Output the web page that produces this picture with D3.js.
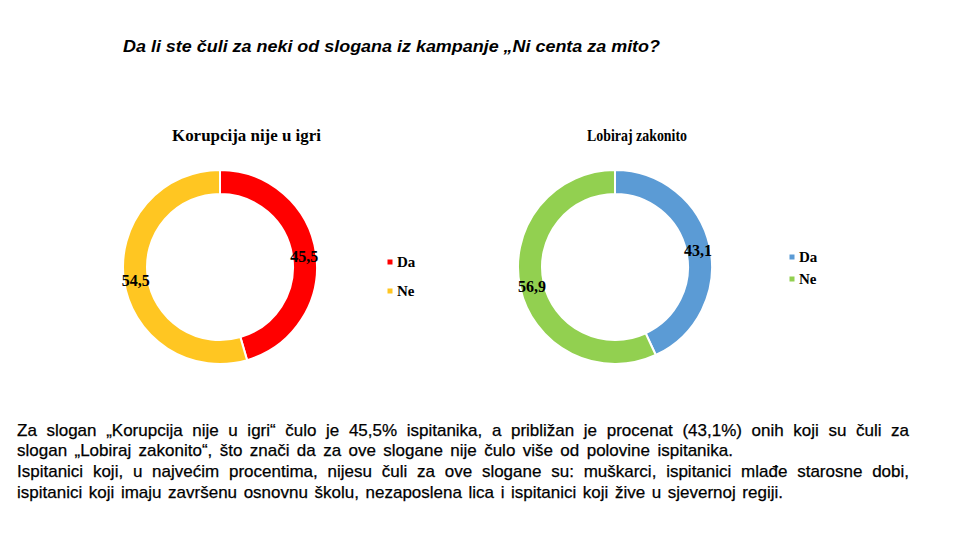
<!DOCTYPE html>
<html>
<head>
<meta charset="utf-8">
<script src="https://cdn.jsdelivr.net/npm/d3@7/dist/d3.min.js"></script>
<style>
  html, body { margin: 0; padding: 0; background: #fff; }
  svg { display: block; }
</style>
</head>
<body>
<svg id="chart" width="960" height="540"></svg>
<script>
// ---- Data ----
const mainTitle = "Da li ste čuli za neki od slogana iz kampanje „Ni centa za mito?";
const categories = ["Da", "Ne"];
const chartTitles = ["Korupcija nije u igri", "Lobiraj zakonito"];
const korupcijaValues = [45.5, 54.5];
const lobirajValues = [43.1, 56.9];
const korupcijaColors = ["#FF0000", "#FFC622"];
const lobirajColors = ["#5B9BD5", "#92D050"];
const bodyLines = [
  "Za slogan „Korupcija nije u igri“ čulo je 45,5% ispitanika, a približan je procenat (43,1%) onih koji su čuli za",
  "slogan „Lobiraj zakonito“, što znači da za ove slogane nije čulo više od polovine ispitanika.",
  "Ispitanici koji, u najvećim procentima, nijesu čuli za ove slogane su: muškarci, ispitanici mlađe starosne dobi,",
  "ispitanici koji imaju završenu osnovnu školu, nezaposlena lica i ispitanici koji žive u sjevernoj regiji."
];
const bodyLineWidths = [892, 716, 892, 766];

const svg = d3.select("#chart");

// ---- Main title ----
svg.append("text")
  .attr("x", 123).attr("y", 52)
  .attr("font-family", "Liberation Sans, Arial, sans-serif")
  .attr("font-size", 16).attr("font-weight", "bold").attr("font-style", "italic")
  .attr("fill", "#000")
  .attr("textLength", 537).attr("lengthAdjust", "spacingAndGlyphs")
  .text(mainTitle);

// ---- Donuts ----
const charts = [
  { title: chartTitles[0], values: korupcijaValues, colors: korupcijaColors,
    cx: 220, cy: 267, titleX: 172, titleW: 149, legendX: 390, legendY: 262, legendGap: 29 },
  { title: chartTitles[1], values: lobirajValues, colors: lobirajColors,
    cx: 615, cy: 267, titleX: 587, titleW: 100, legendX: 792, legendY: 257, legendGap: 22 }
];

const pie = d3.pie().sort(null).value(d => d.value);
const arc = d3.arc().innerRadius(73).outerRadius(97);

charts.forEach(c => {
  const data = categories.map((k, i) => ({ key: k, value: c.values[i] }));
  const color = d3.scaleOrdinal().domain(categories).range(c.colors);

  svg.append("text")
    .attr("x", c.titleX).attr("y", 140.5)
    .attr("font-family", "Liberation Serif, Times New Roman, serif")
    .attr("font-size", 17).attr("font-weight", "bold")
    .attr("fill", "#000")
    .attr("textLength", c.titleW).attr("lengthAdjust", "spacingAndGlyphs")
    .text(c.title);

  const g = svg.append("g").attr("transform", `translate(${c.cx},${c.cy})`);
  const arcs = pie(data);
  g.selectAll("path").data(arcs).join("path")
    .attr("d", arc)
    .attr("fill", d => color(d.data.key))
    .attr("stroke", "#fff").attr("stroke-width", 2);

  g.selectAll("text.lbl").data(arcs).join("text")
    .attr("class", "lbl")
    .attr("transform", d => { const p = arc.centroid(d); return `translate(${p[0]},${p[1] + 1.5})`; })
    .attr("text-anchor", "middle").attr("dy", "0.35em")
    .attr("font-family", "Liberation Serif, Times New Roman, serif")
    .attr("font-size", 16).attr("font-weight", "bold")
    .attr("fill", "#000")
    .text(d => d3.format(".1f")(d.data.value).replace(".", ","));

  // legend
  const lg = svg.append("g").attr("transform", `translate(${c.legendX},${c.legendY})`);
  const item = lg.selectAll("g").data(categories).join("g")
    .attr("transform", (d, i) => `translate(0,${i * c.legendGap})`);
  item.append("rect").attr("x", -2.5).attr("y", -2.5).attr("width", 5).attr("height", 5)
    .attr("fill", d => color(d));
  item.append("text").attr("x", 7).attr("y", 5)
    .attr("font-family", "Liberation Serif, Times New Roman, serif")
    .attr("font-size", 15).attr("font-weight", "bold").attr("fill", "#000")
    .text(d => d);
});

// ---- Body text (justified) ----
const bodyX = 17, bodyY0 = 435.5, lineH = 20.8;
bodyLines.forEach((line, i) => {
  const y = bodyY0 + i * lineH;
  const t = svg.append("text")
    .attr("x", bodyX).attr("y", y)
    .attr("font-family", "Liberation Sans, Arial, sans-serif")
    .attr("font-size", 17).attr("fill", "#000")
    .attr("stroke", "#000").attr("stroke-width", 0.25)
    .text(line);
  const natural = t.node().getComputedTextLength();
  const spaces = (line.match(/ /g) || []).length;
  if (spaces > 0 && bodyLineWidths[i] > natural) {
    t.attr("word-spacing", (bodyLineWidths[i] - natural) / spaces);
  } else {
    t.attr("textLength", bodyLineWidths[i]).attr("lengthAdjust", "spacingAndGlyphs");
  }
});
</script>
</body>
</html>
